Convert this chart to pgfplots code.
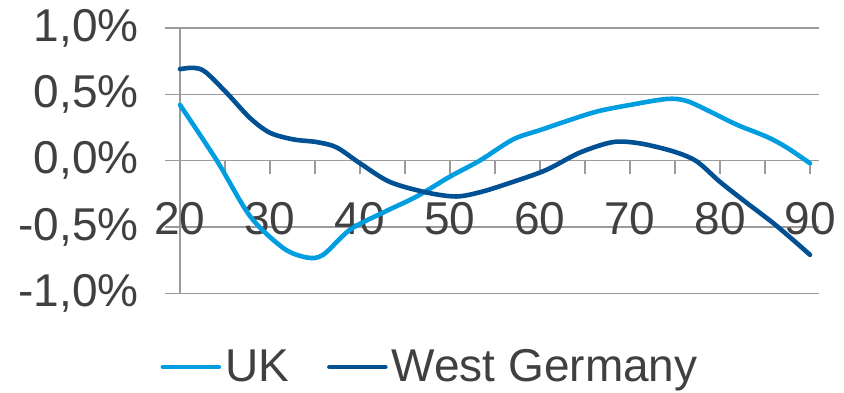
\documentclass[border=0pt]{standalone}
\usepackage{pgfplots}
\pgfplotsset{compat=1.18}
\usepackage{fontspec}
\setmainfont{Liberation Sans}
\definecolor{ukblue}{RGB}{0,158,224}
\definecolor{wgblue}{RGB}{0,81,148}
\definecolor{gridgray}{RGB}{155,155,155}
\definecolor{txtgray}{RGB}{64,64,64}
\begin{document}
\begin{tikzpicture}
\useasboundingbox (-90pt,-49.35pt) rectangle (332pt,146.65pt);
\begin{axis}[
  at={(0,0)}, anchor=south west,
  scale only axis,
  width=319.5pt, height=132.65pt,
  xmin=20, xmax=91, ymin=-1, ymax=1,
  axis x line*=middle, axis y line*=left,
  hide obscured x ticks=false,
  axis line style={gridgray, line width=0.65pt},
  ymajorgrids, grid style={gridgray, line width=0.65pt},
  xtick={20,25,...,90},
  xticklabels={20,,30,,40,,50,,60,,70,,80,,90},
  ytick={-1,-0.5,0,0.5,1},
  yticklabels={{-1,0\%},{-0,5\%},{0,0\%},{0,5\%},{1,0\%}},
  tick align=outside,
  major tick length=7.5pt,
  xtick style={gridgray, line width=0.65pt, /pgfplots/major tick length=6.5pt},
  ytick style={gridgray, line width=0.65pt},
  tick label style={font=\fontsize{23}{28}\selectfont, text=txtgray, inner sep=0pt},
  xticklabel style={anchor=north, yshift=-13pt},
  yticklabel style={anchor=east, xshift=-13pt},
  clip=false,
  legend style={at={(-0.031,-0.278)}, anchor=west, draw=none, fill=none,
    inner sep=0pt, font=\fontsize{23}{28}\selectfont, text=txtgray,
    /tikz/every even column/.append style={column sep=17pt}},
  legend columns=2,
  legend cell align=left,
  legend image code/.code={\draw[#1, line cap=round] (0pt,0pt) -- (28pt,0pt);},
]
\addplot[ukblue, line width=2.3pt, smooth, tension=0.5, line cap=round] coordinates {
(20,0.42) (24.1,0.0) (27.8,-0.42) (31.5,-0.66) (34.1,-0.73) (35.9,-0.71)
(38.9,-0.52) (42.6,-0.39) (46.3,-0.27) (50,-0.12) (53.3,0.0) (57,0.16)
(60,0.23) (62.6,0.29) (66.3,0.37) (70,0.42) (74.1,0.465) (76.3,0.45)
(79.2,0.36) (81.9,0.27) (85.2,0.18) (87.4,0.10) (90,-0.02)
};
\addlegendentry{UK}
\addplot[wgblue, line width=2.3pt, smooth, tension=0.5, line cap=round] coordinates {
(20,0.69) (21.5,0.70) (22.8,0.67) (25.2,0.51) (27.8,0.32) (30,0.21)
(32.6,0.16) (35.2,0.14) (37.4,0.10) (40,-0.02) (43.3,-0.16) (47.4,-0.24)
(50.7,-0.27) (53.5,-0.235) (57,-0.16) (60.7,-0.07) (64.4,0.06) (68.1,0.14)
(71.1,0.13) (74.8,0.07) (77.4,-0.005) (80,-0.16) (83,-0.32) (85.9,-0.47)
(88.5,-0.62) (90,-0.71)
};
\addlegendentry{West Germany}
\end{axis}
\end{tikzpicture}
\end{document}
